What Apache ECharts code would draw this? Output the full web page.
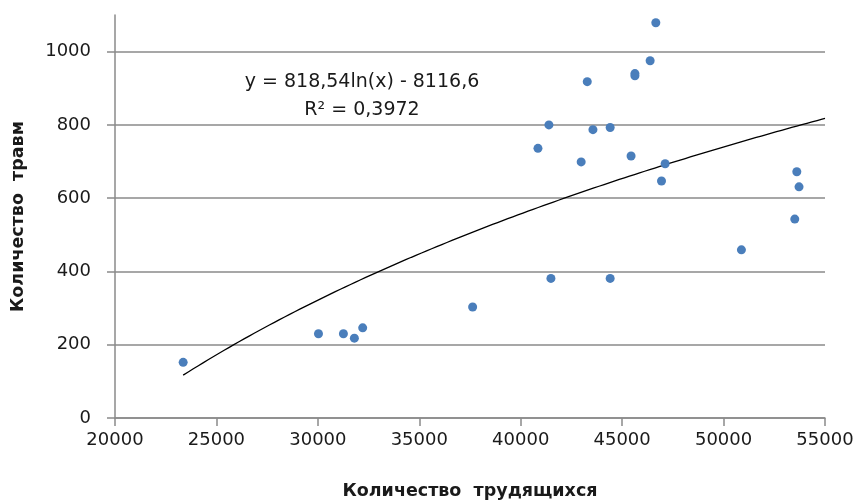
<!DOCTYPE html>
<html>
<head>
<meta charset="utf-8">
<script src="https://cdn.jsdelivr.net/npm/echarts@6/dist/echarts.min.js"></script>
<style>
  html, body { margin: 0; padding: 0; background: #fff; }
  #chart { width: 861px; height: 501px; }
</style>
</head>
<body>
<div id="chart"></div>
<script>
// Number of workers per enterprise and the injuries recorded there
const workers  = [23360, 30030, 31260, 31800, 32210, 37630, 40850, 41390, 41490, 42980, 43280, 43560, 44410, 44410, 45440, 45630, 45630, 46380, 46660, 46940, 47120, 50880, 53510, 53610, 53720];
const injuries = [152, 230, 230, 218, 246, 303, 736, 800, 381, 699, 918, 787, 793, 381, 715, 940, 934, 975, 1079, 647, 694, 459, 543, 672, 631];

// Axis ticks
const xTicks = [20000, 25000, 30000, 35000, 40000, 45000, 50000, 55000];
const yTicks = [0, 200, 400, 600, 800, 1000];

// Logarithmic trend: y = a*ln(x) + b
const trendA = 818.54;
const trendB = -8116.6;
const trendText = ['y = 818,54ln(x) - 8116,6', 'R² = 0,3972'];

const points = workers.map((w, i) => [w, injuries[i]]);

const trendStart = Math.min(...workers);
const trendEnd = xTicks[xTicks.length - 1];
const trend = [];
for (let x = trendStart; x <= trendEnd; x += 250) trend.push([x, trendA * Math.log(x) + trendB]);
trend.push([trendEnd, trendA * Math.log(trendEnd) + trendB]);

const gridGray = '#8a8a8a';
const labelFont = 'DejaVu Sans';
const plain = v => String(v);

const chart = echarts.init(document.getElementById('chart'), null, { renderer: 'canvas' });
chart.setOption({
  animation: false,
  backgroundColor: '#ffffff',
  grid: { left: 115, right: 36, top: 15, bottom: 83, containLabel: false, outerBoundsMode: 'none' },
  xAxis: {
    type: 'value',
    min: 20000, max: 55000, interval: 5000,
    name: 'Количество  трудящихся',
    nameLocation: 'middle', nameGap: 64,
    nameTextStyle: { fontFamily: labelFont, fontWeight: 'bold', fontSize: 17.5, color: '#1a1a1a' },
    axisLine: { show: true, lineStyle: { color: gridGray, width: 1.5 } },
    axisTick: { show: true, inside: false, length: 8, lineStyle: { color: gridGray, width: 1.5 } },
    axisLabel: { margin: 13, fontFamily: labelFont, fontSize: 18, color: '#1a1a1a', formatter: plain },
    splitLine: { show: false }
  },
  yAxis: {
    type: 'value',
    min: 0, max: 1100,
    name: 'Количество  травм',
    nameLocation: 'middle', nameGap: 88, nameRotate: 90,
    nameTextStyle: { fontFamily: labelFont, fontWeight: 'bold', fontSize: 17.5, color: '#1a1a1a' },
    axisLine: { show: true, lineStyle: { color: gridGray, width: 1.5 } },
    axisTick: { show: true, inside: false, length: 8, customValues: yTicks, lineStyle: { color: gridGray, width: 1.5 } },
    axisLabel: { margin: 24, fontFamily: labelFont, fontSize: 18, color: '#1a1a1a', customValues: yTicks, formatter: plain },
    splitLine: { show: true, lineStyle: { color: gridGray, width: 1.5 } }
  },
  series: [
    {
      type: 'line',
      data: trend,
      showSymbol: false,
      smooth: false,
      silent: true,
      z: 1,
      lineStyle: { color: '#000000', width: 1.3 }
    },
    {
      type: 'scatter',
      data: points,
      symbol: 'circle',
      symbolSize: 9,
      z: 3,
      itemStyle: { color: '#4a7ebb', opacity: 1 }
    }
  ],
  graphic: [
    {
      type: 'text',
      x: 362, y: 96,
      style: {
        text: trendText.join('\n'),
        align: 'center', verticalAlign: 'middle',
        fontFamily: labelFont, fontSize: 19, lineHeight: 28,
        fill: '#1a1a1a'
      }
    }
  ]
});
</script>
</body>
</html>
